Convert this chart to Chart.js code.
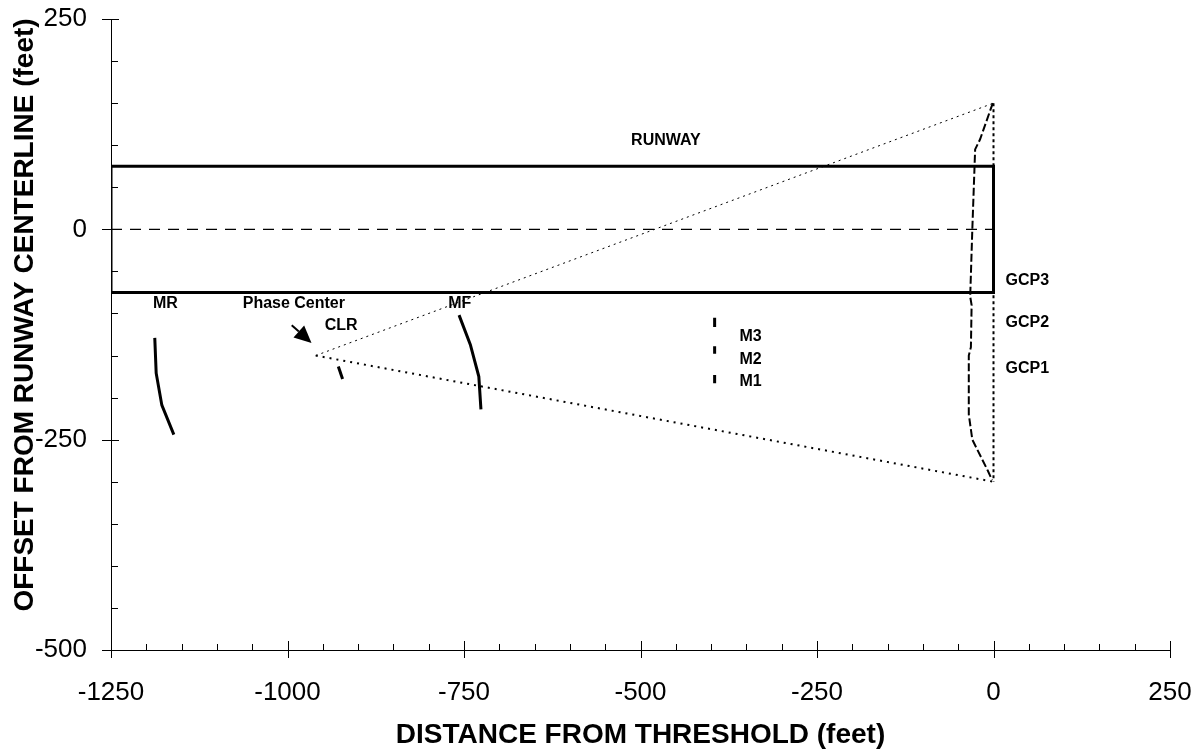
<!DOCTYPE html>
<html>
<head>
<meta charset="utf-8">
<script src="https://cdn.jsdelivr.net/npm/chart.js@4/dist/chart.umd.min.js"></script>
<style>
  body { margin: 0; background: #fff; }
  canvas { display: block; }
</style>
</head>
<body>
<canvas id="chart" width="1203" height="751"></canvas>
<script>
// runway outline and centreline (feet)
const runwayX = [-1250, 0, 0, -1250, -1250];
const runwayY = [75, 75, -75, -75, 75];
const centerX = [-1250, 0];
const centerY = [0, 0];

// coverage cone from the phase center
const coneUpX = [-960, 0];
const coneUpY = [-150, 150];
const coneLowX = [-960, 0];
const coneLowY = [-150, -300];
const edgeX = [0, 0];
const edgeY = [150, -300];

// GCP track
const gcpX = [-1, -19, -26, -30, -33, -31, -32, -35, -35, -30, -8, -2];
const gcpY = [150, 107, 95, 0, -80, -90, -140, -150, -220, -250, -287, -298];

// measured tracks
const mrX = [-1188, -1186, -1178, -1161];
const mrY = [-129, -171, -209, -244];
const clrX = [-928, -922];
const clrY = [-163, -178];
const mfX = [-757, -741, -729, -726];
const mfY = [-102, -137, -175, -214];
const m3X = [-395, -395], m3Y = [-105, -116];
const m2X = [-395, -395], m2Y = [-139, -148];
const m1X = [-395, -395], m1Y = [-173, -183];

// text labels (data coords)
const noteText = ['RUNWAY', 'MR', 'Phase Center', 'CLR', 'MF', 'M3', 'M2', 'M1', 'GCP3', 'GCP2', 'GCP1'];
const noteX = [-464, -1173, -991, -924, -756, -344, -344, -344, 17, 17, 17];
const noteY = [105, -88, -88, -115, -88, -128, -155, -181, -61, -111, -166];

const xTicks = [-1250, -1000, -750, -500, -250, 0, 250];
const yTicks = [-500, -250, 0, 250];

const pts = (xs, ys) => xs.map((x, i) => ({ x: x, y: ys[i] }));

function line(xs, ys, width, dash) {
  return {
    data: pts(xs, ys),
    showLine: true,
    borderColor: '#000',
    borderWidth: width,
    borderDash: dash || [],
    pointRadius: 0,
    tension: 0,
    fill: false
  };
}

const extras = {
  id: 'extras',
  afterDraw(chart) {
    const ctx = chart.ctx;
    const xs = chart.scales.x, ys = chart.scales.y;
    const area = chart.chartArea;
    ctx.save();
    ctx.strokeStyle = '#000';
    ctx.lineWidth = 1;
    // tick marks: major crossing, minor inside
    ctx.beginPath();
    for (let v = -1250; v <= 250; v += 50) {
      const px = Math.round(xs.getPixelForValue(v)) + 0.5;
      if (v % 250 === 0) { ctx.moveTo(px, area.bottom - 9); ctx.lineTo(px, area.bottom + 8); }
      else { ctx.moveTo(px, area.bottom - 6); ctx.lineTo(px, area.bottom); }
    }
    for (let v = -500; v <= 250; v += 50) {
      const py = Math.round(ys.getPixelForValue(v)) + 0.5;
      if (v % 250 === 0) { ctx.moveTo(area.left - 9, py); ctx.lineTo(area.left + 8, py); }
      else { ctx.moveTo(area.left, py); ctx.lineTo(area.left + 7, py); }
    }
    ctx.stroke();

    // labels
    ctx.fillStyle = '#000';
    ctx.font = 'bold 16px "Liberation Sans", Arial, sans-serif';
    ctx.textBaseline = 'middle';
    noteText.forEach((t, i) => {
      ctx.textAlign = t.startsWith('GCP') ? 'left' : 'center';
      ctx.fillText(t, xs.getPixelForValue(noteX[i]), ys.getPixelForValue(noteY[i]));
    });

    // arrow pointing at the phase center
    const tx = xs.getPixelForValue(-994), ty = ys.getPixelForValue(-114);
    const hx = xs.getPixelForValue(-966), hy = ys.getPixelForValue(-135);
    const a = Math.atan2(hy - ty, hx - tx);
    const hl = 17, hw = 8;
    ctx.lineWidth = 2;
    ctx.beginPath();
    ctx.moveTo(tx, ty);
    ctx.lineTo(hx - hl * Math.cos(a), hy - hl * Math.sin(a));
    ctx.stroke();
    ctx.beginPath();
    ctx.moveTo(hx, hy);
    ctx.lineTo(hx - hl * Math.cos(a) + hw * Math.sin(a), hy - hl * Math.sin(a) - hw * Math.cos(a));
    ctx.lineTo(hx - hl * Math.cos(a) - hw * Math.sin(a), hy - hl * Math.sin(a) + hw * Math.cos(a));
    ctx.closePath();
    ctx.fill();

    // axis titles
    ctx.font = 'bold 28px "Liberation Sans", Arial, sans-serif';
    ctx.textAlign = 'center';
    ctx.textBaseline = 'alphabetic';
    ctx.fillText('DISTANCE FROM THRESHOLD (feet)', (area.left + area.right) / 2, 743);
    ctx.translate(33, 315);
    ctx.rotate(-Math.PI / 2);
    ctx.fillText('OFFSET FROM RUNWAY CENTERLINE (feet)', 0, 0);
    ctx.restore();
  }
};

new Chart(document.getElementById('chart').getContext('2d'), {
  type: 'scatter',
  data: {
    datasets: [
      line(centerX, centerY, 1.3, [11, 8]),
      line(coneUpX, coneUpY, 1, [2, 4]),
      line(coneLowX, coneLowY, 2, [2, 5]),
      line(edgeX, edgeY, 2, [3, 3]),
      line(gcpX, gcpY, 2, [8, 3]),
      line(runwayX, runwayY, 3),
      line(mrX, mrY, 3),
      line(clrX, clrY, 3),
      line(mfX, mfY, 3),
      line(m3X, m3Y, 3),
      line(m2X, m2Y, 3),
      line(m1X, m1Y, 3)
    ]
  },
  options: {
    responsive: false,
    animation: false,
    layout: { padding: { top: 19, right: 33, left: 0, bottom: 0 } },
    plugins: { legend: { display: false }, tooltip: { enabled: false } },
    scales: {
      x: {
        type: 'linear',
        min: -1250,
        max: 250,
        afterBuildTicks: s => { s.ticks = xTicks.map(v => ({ value: v })); },
        afterFit: s => { s.height = 101; s.paddingLeft = 0; s.paddingRight = 0; },
        ticks: {
          color: '#000', padding: 27, maxRotation: 0,
          font: { family: '"Liberation Sans", Arial', size: 26 },
          callback: v => String(v)
        },
        grid: { display: false, drawTicks: false },
        border: { color: '#000', width: 1 }
      },
      y: {
        type: 'linear',
        min: -500,
        max: 250,
        afterBuildTicks: s => { s.ticks = yTicks.map(v => ({ value: v })); },
        afterFit: s => { s.width = 111; s.paddingTop = 0; s.paddingBottom = 0; },
        ticks: {
          color: '#000', padding: 24,
          font: { family: '"Liberation Sans", Arial', size: 26 },
          callback: v => String(v)
        },
        grid: { display: false, drawTicks: false },
        border: { color: '#000', width: 1 }
      }
    }
  },
  plugins: [extras]
});
</script>
</body>
</html>
